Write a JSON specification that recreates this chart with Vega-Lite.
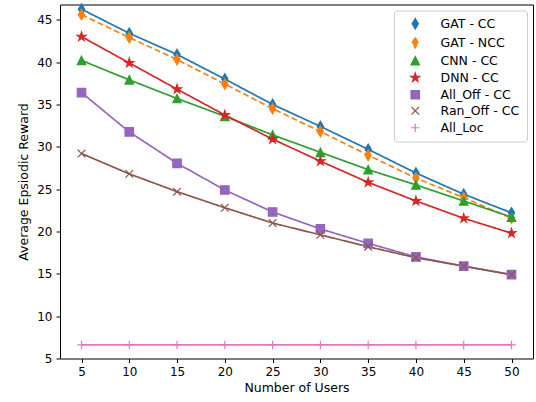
{
  "$schema": "https://vega.github.io/schema/vega-lite/v6.json",
  "autosize": "none",
  "width": 473,
  "height": 354,
  "padding": {"left": 60, "top": 4.5, "right": 3, "bottom": 43.5},
  "background": "white",
  "config": {
    "view": {"stroke": "black", "strokeWidth": 1},
    "font": "DejaVu Sans",
    "axis": {
      "domain": false,
      "grid": false,
      "tickColor": "black",
      "tickSize": 4,
      "tickWidth": 1,
      "labelColor": "black",
      "labelFont": "DejaVu Sans",
      "labelFontSize": 12,
      "labelPadding": 4,
      "titleColor": "black",
      "titleFont": "DejaVu Sans",
      "titleFontSize": 12.5,
      "titleFontWeight": "normal"
    },
    "legend": {
      "orient": "none",
      "legendX": 334,
      "legendY": 6,
      "padding": 7,
      "strokeColor": "#cccccc",
      "strokeWidth": 1,
      "fillColor": "rgba(255,255,255,0.8)",
      "cornerRadius": 3,
      "labelFont": "DejaVu Sans",
      "labelFontSize": 12.5,
      "labelColor": "black",
      "labelOffset": 19,
      "symbolOffset": 8,
      "symbolSize": 72,
      "symbolStrokeWidth": 1.2,
      "symbolOpacity": 1,
      "rowPadding": 3,
      "title": null
    }
  },
  "data": {
    "values": [
      {"u": 5, "s": "GAT - CC", "r": 46.25}, {"u": 10, "s": "GAT - CC", "r": 43.4}, {"u": 15, "s": "GAT - CC", "r": 40.9}, {"u": 20, "s": "GAT - CC", "r": 38.0}, {"u": 25, "s": "GAT - CC", "r": 35.0}, {"u": 30, "s": "GAT - CC", "r": 32.4}, {"u": 35, "s": "GAT - CC", "r": 29.7}, {"u": 40, "s": "GAT - CC", "r": 26.9}, {"u": 45, "s": "GAT - CC", "r": 24.4}, {"u": 50, "s": "GAT - CC", "r": 22.2},
      {"u": 5, "s": "GAT - NCC", "r": 45.6}, {"u": 10, "s": "GAT - NCC", "r": 42.9}, {"u": 15, "s": "GAT - NCC", "r": 40.3}, {"u": 20, "s": "GAT - NCC", "r": 37.4}, {"u": 25, "s": "GAT - NCC", "r": 34.5}, {"u": 30, "s": "GAT - NCC", "r": 31.8}, {"u": 35, "s": "GAT - NCC", "r": 29.0}, {"u": 40, "s": "GAT - NCC", "r": 26.3}, {"u": 45, "s": "GAT - NCC", "r": 24.0}, {"u": 50, "s": "GAT - NCC", "r": 21.55},
      {"u": 5, "s": "CNN - CC", "r": 40.2}, {"u": 10, "s": "CNN - CC", "r": 37.9}, {"u": 15, "s": "CNN - CC", "r": 35.7}, {"u": 20, "s": "CNN - CC", "r": 33.6}, {"u": 25, "s": "CNN - CC", "r": 31.4}, {"u": 30, "s": "CNN - CC", "r": 29.35}, {"u": 35, "s": "CNN - CC", "r": 27.3}, {"u": 40, "s": "CNN - CC", "r": 25.5}, {"u": 45, "s": "CNN - CC", "r": 23.6}, {"u": 50, "s": "CNN - CC", "r": 21.7},
      {"u": 5, "s": "DNN - CC", "r": 43.0}, {"u": 10, "s": "DNN - CC", "r": 39.9}, {"u": 15, "s": "DNN - CC", "r": 36.8}, {"u": 20, "s": "DNN - CC", "r": 33.75}, {"u": 25, "s": "DNN - CC", "r": 30.9}, {"u": 30, "s": "DNN - CC", "r": 28.3}, {"u": 35, "s": "DNN - CC", "r": 25.8}, {"u": 40, "s": "DNN - CC", "r": 23.6}, {"u": 45, "s": "DNN - CC", "r": 21.55}, {"u": 50, "s": "DNN - CC", "r": 19.8},
      {"u": 5, "s": "All_Off - CC", "r": 36.4}, {"u": 10, "s": "All_Off - CC", "r": 31.75}, {"u": 15, "s": "All_Off - CC", "r": 28.05}, {"u": 20, "s": "All_Off - CC", "r": 24.9}, {"u": 25, "s": "All_Off - CC", "r": 22.3}, {"u": 30, "s": "All_Off - CC", "r": 20.3}, {"u": 35, "s": "All_Off - CC", "r": 18.6}, {"u": 40, "s": "All_Off - CC", "r": 17.0}, {"u": 45, "s": "All_Off - CC", "r": 15.9}, {"u": 50, "s": "All_Off - CC", "r": 14.9},
      {"u": 5, "s": "Ran_Off - CC", "r": 29.2}, {"u": 10, "s": "Ran_Off - CC", "r": 26.8}, {"u": 15, "s": "Ran_Off - CC", "r": 24.7}, {"u": 20, "s": "Ran_Off - CC", "r": 22.8}, {"u": 25, "s": "Ran_Off - CC", "r": 21.0}, {"u": 30, "s": "Ran_Off - CC", "r": 19.6}, {"u": 35, "s": "Ran_Off - CC", "r": 18.2}, {"u": 40, "s": "Ran_Off - CC", "r": 16.9}, {"u": 45, "s": "Ran_Off - CC", "r": 15.9}, {"u": 50, "s": "Ran_Off - CC", "r": 14.9},
      {"u": 5, "s": "All_Loc", "r": 6.6}, {"u": 10, "s": "All_Loc", "r": 6.6}, {"u": 15, "s": "All_Loc", "r": 6.6}, {"u": 20, "s": "All_Loc", "r": 6.6}, {"u": 25, "s": "All_Loc", "r": 6.6}, {"u": 30, "s": "All_Loc", "r": 6.6}, {"u": 35, "s": "All_Loc", "r": 6.6}, {"u": 40, "s": "All_Loc", "r": 6.6}, {"u": 45, "s": "All_Loc", "r": 6.6}, {"u": 50, "s": "All_Loc", "r": 6.6}
    ]
  },
  "encoding": {
    "x": {
      "field": "u", "type": "quantitative", "title": "Number of Users",
      "scale": {"domain": [2.75, 52.25], "nice": false, "zero": false},
      "axis": {"values": [5, 10, 15, 20, 25, 30, 35, 40, 45, 50], "titlePadding": 4}
    },
    "y": {
      "field": "r", "type": "quantitative", "title": "Average Epsiodic Reward",
      "scale": {"domain": [5, 46.8], "nice": false, "zero": false},
      "axis": {"values": [5, 10, 15, 20, 25, 30, 35, 40, 45], "titlePadding": 6}
    }
  },
  "layer": [
    {
      "mark": {"type": "line", "strokeWidth": 1.7},
      "encoding": {
        "color": {
          "field": "s", "type": "nominal",
          "scale": {
            "domain": ["GAT - CC", "GAT - NCC", "CNN - CC", "DNN - CC", "All_Off - CC", "Ran_Off - CC", "All_Loc"],
            "range": ["#1f77b4", "#ff7f0e", "#2ca02c", "#d62728", "#9467bd", "#8c564b", "#e377c2"]
          }
        },
        "strokeDash": {
          "field": "s", "type": "nominal",
          "scale": {
            "domain": ["GAT - CC", "GAT - NCC", "CNN - CC", "DNN - CC", "All_Off - CC", "Ran_Off - CC", "All_Loc"],
            "range": [[1, 0], [6, 3], [1, 0], [1, 0], [1, 0], [1, 0], [1, 0]]
          }
        }
      }
    },
    {
      "mark": {"type": "point", "filled": true, "opacity": 1, "size": 72, "strokeWidth": 1.2},
      "encoding": {
        "color": {
          "field": "s", "type": "nominal",
          "scale": {
            "domain": ["GAT - CC", "GAT - NCC", "CNN - CC", "DNN - CC", "All_Off - CC", "Ran_Off - CC", "All_Loc"],
            "range": ["#1f77b4", "#ff7f0e", "#2ca02c", "#d62728", "#9467bd", "#8c564b", "#e377c2"]
          }
        },
        "stroke": {
          "field": "s", "type": "nominal",
          "scale": {
            "domain": ["GAT - CC", "GAT - NCC", "CNN - CC", "DNN - CC", "All_Off - CC", "Ran_Off - CC", "All_Loc"],
            "range": ["#1f77b4", "#ff7f0e", "#2ca02c", "#d62728", "#9467bd", "#8c564b", "#e377c2"]
          }
        },
        "shape": {
          "field": "s", "type": "nominal",
          "scale": {
            "domain": ["GAT - CC", "GAT - NCC", "CNN - CC", "DNN - CC", "All_Off - CC", "Ran_Off - CC", "All_Loc"],
            "range": [
              "M0,-1.24L0.74,0L0,1.24L-0.74,0Z",
              "M0,-1.24L0.74,0L0,1.24L-0.74,0Z",
              "M0,-1L1,1L-1,1Z",
              "M0,-1.1L0.245,-0.338L1.046,-0.34L0.397,0.129L0.647,0.89L0,0.418L-0.647,0.89L-0.397,0.129L-1.046,-0.34L-0.245,-0.338Z",
              "M-1,-1H1V1H-1Z",
              "M-0.9,-0.9L0.9,0.9M-0.9,0.9L0.9,-0.9",
              "M-1,0H1M0,-1V1"
            ]
          }
        }
      }
    }
  ]
}
